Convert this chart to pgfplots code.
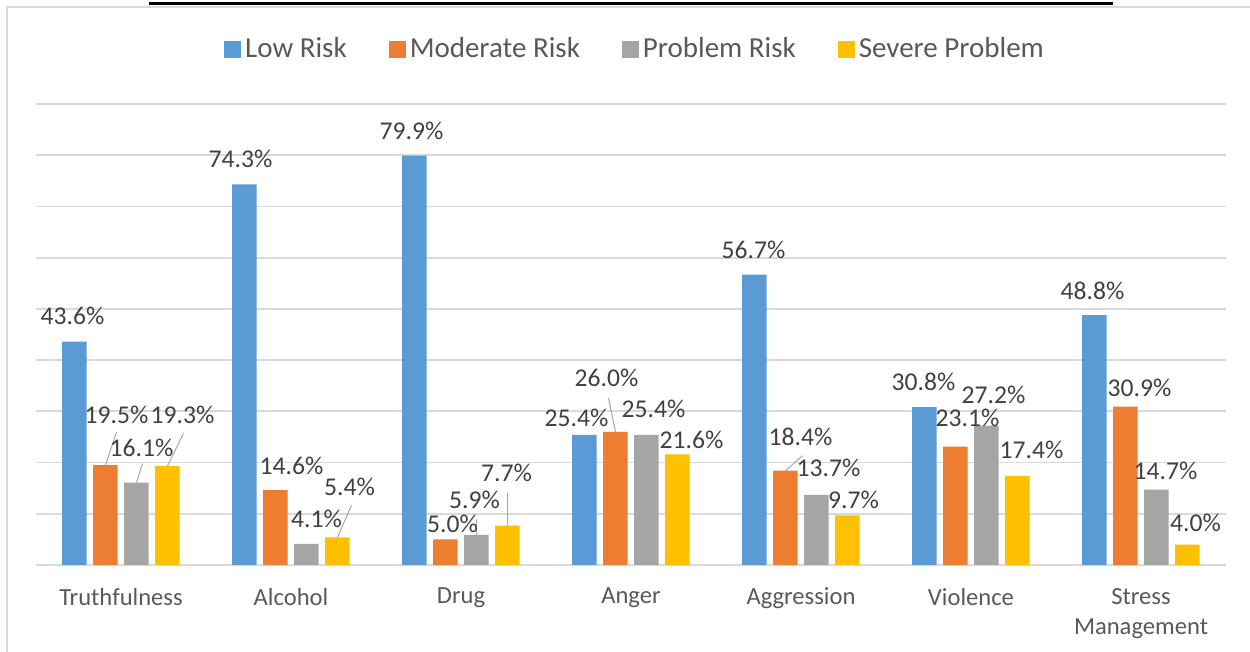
\documentclass[border=0pt]{standalone}
\usepackage{fontspec}
\setmainfont{Carlito}
\usepackage{pgfplots}
\usepackage{pgfplotstable}
\pgfplotsset{compat=1.18}
\definecolor{cLow}{HTML}{5B9BD5}
\definecolor{cMod}{HTML}{ED7D31}
\definecolor{cProb}{HTML}{A5A5A5}
\definecolor{cSev}{HTML}{FFC000}
\definecolor{gridc}{HTML}{D9D9D9}
\definecolor{txt}{HTML}{595959}
\definecolor{lab}{HTML}{404040}
\definecolor{leader}{HTML}{A6A6A6}

% x y dx dy : dx, dy = label offset from bar top (px of the reference)
\pgfplotstableread{
x y dx dy
0 43.6 -2 26
1 74.3 -4 26
2 79.9 -3 25
3 25.4 -8 17
4 56.7 -1 25
5 30.8 -1 25
6 48.8 -2 24
}\lowrisk
\pgfplotstableread{
x y dx dy
0 19.5 11 50
1 14.6 16 24
2 5.0 7 16
3 26.0 -9 54
4 18.4 15 34
5 23.1 12 29
6 30.9 14 19
}\modrisk
\pgfplotstableread{
x y dx dy
0 16.1 5 35
1 4.1 10 25
2 5.9 -2 35
3 25.4 7 26
4 13.7 12 27
5 27.2 7 31
6 14.7 9 19
}\probrisk
\pgfplotstableread{
x y dx dy
0 19.3 15 51
1 5.4 12 50
2 7.7 -1 53
3 21.6 14 14
4 9.7 6 15
5 17.4 14 26
6 4.0 8 22
}\sevprob

\pgfplotsset{
  mybars/.style={ybar, bar width=12.25pt, bar shift=#1, draw=none, forget plot,
    nodes near coords={\pgfmathprintnumber[fixed,precision=1,fixed zerofill]{\pgfplotspointmeta}\%},
    visualization depends on={\thisrow{dx} \as \dx},
    visualization depends on={\thisrow{dy} \as \dy},
    every node near coord/.append style={anchor=center, text=lab, font=\fontsize{12.8}{14}\selectfont,
      xshift={#1+0.5pt*\dx}, yshift={0.5pt*\dy}},
  },
}

\begin{document}
\begin{tikzpicture}
\useasboundingbox (0,0) rectangle (625pt,326pt);
% chart frame and cropped title underline
\draw[gridc, line width=1pt] (3.5pt,0) -- (3.5pt,322.5pt) -- (625pt,322.5pt);
\draw[black, line width=1.25pt] (74.5pt,324.3pt) -- (556.5pt,324.3pt);
\begin{axis}[
  at={(18pt,43.5pt)}, anchor=south west,
  scale only axis, width=595pt, height=230.5pt,
  xmin=-0.5, xmax=6.5, ymin=0, ymax=90,
  xtick={0,...,6},
  xticklabels={Truthfulness,Alcohol,Drug,Anger,Aggression,Violence,{Stress\\Management}},
  xticklabel style={align=center, font=\fontsize{12.3}{15}\selectfont, text=txt, anchor=north, yshift=-8pt},
  ytick={0,10,...,90}, yticklabels={},
  ymajorgrids, grid style={gridc, line width=0.9pt},
  axis line style={draw=none}, major tick length=0pt,
  clip=false,
  /pgf/number format/assume math mode=true,
  legend columns=-1,
  legend style={at={(0.5,1)}, anchor=center, xshift=2.5pt, yshift=27.5pt, draw=none, fill=none,
    font=\fontsize{14.5}{17}\selectfont, text=txt,
    /tikz/every even column/.append style={column sep=19pt}},
  legend image code/.code={\fill[#1,draw=none] (0pt,-4.25pt) rectangle (8.5pt,4.25pt);},
]
\addlegendimage{fill=cLow}
\addlegendentry{Low Risk}
\addlegendimage{fill=cMod}
\addlegendentry{Moderate Risk}
\addlegendimage{fill=cProb}
\addlegendentry{Problem Risk}
\addlegendimage{fill=cSev}
\addlegendentry{Severe Problem}
\addplot[mybars=-23.25pt, fill=cLow] table[x=x,y=y] {\lowrisk};
\addplot[mybars=-7.75pt, fill=cMod] table[x=x,y=y] {\modrisk};
\addplot[mybars=7.75pt, fill=cProb] table[x=x,y=y] {\probrisk};
\addplot[mybars=23.25pt, fill=cSev] table[x=x,y=y] {\sevprob};
% leader lines
\begin{scope}[leader, line width=0.5pt]
\draw (axis cs:-0.0912,19.5) -- ++(5.5pt,16.5pt);
\draw (axis cs:0.0912,16.1) -- ++(3pt,9.5pt);
\draw (axis cs:0.2735,19.3) -- ++(8pt,16.5pt);
\draw (axis cs:1.2735,5.4) -- ++(7pt,16pt);
\draw (axis cs:2.0912,5.9) -- ++(0pt,8pt);
\draw (axis cs:2.2735,7.7) -- ++(0pt,16.5pt);
\draw (axis cs:2.9088,26.0) -- ++(-3.5pt,17pt);
\draw (axis cs:3.9088,18.4) -- ++(8.5pt,7.5pt);
\end{scope}
\end{axis}
\end{tikzpicture}
\end{document}
